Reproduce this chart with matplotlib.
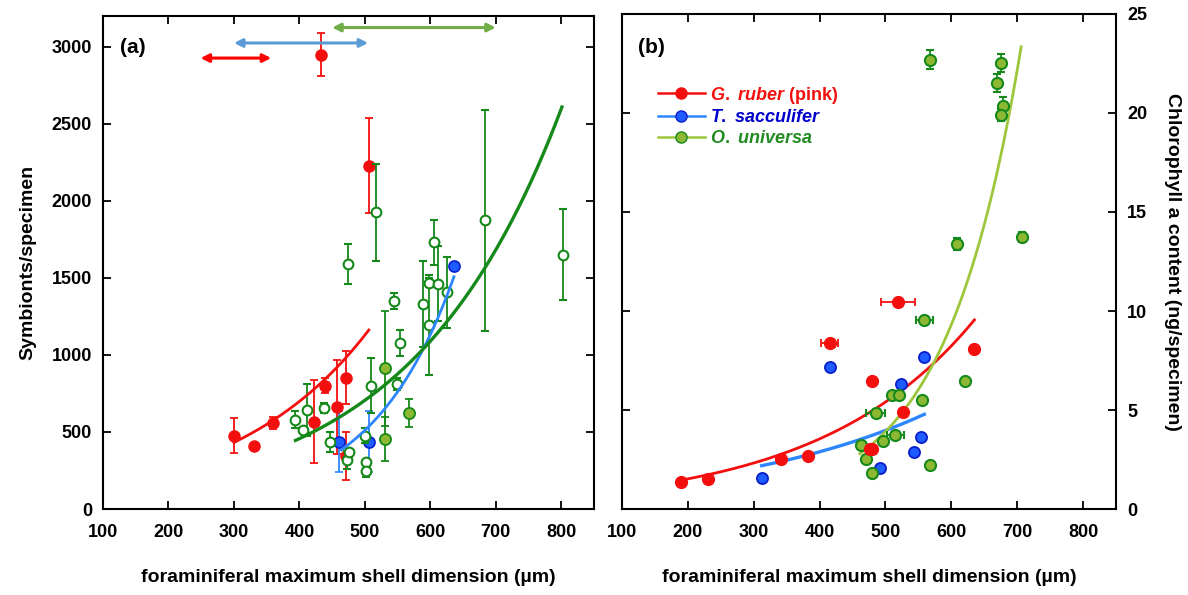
import numpy as np
import matplotlib.pyplot as plt
from matplotlib.lines import Line2D

plt.rcParams['font.family'] = ['Liberation Sans', 'DejaVu Sans']
plt.rcParams['font.weight'] = 'bold'
plt.rcParams['mathtext.fontset'] = 'custom'
plt.rcParams['mathtext.it'] = 'Liberation Sans:italic:bold'
plt.rcParams['mathtext.rm'] = 'Liberation Sans:bold'
plt.rcParams['mathtext.bf'] = 'Liberation Sans:bold'

# colours
RED = '#f40f0f'
BLUE_FILL = '#1e5cff'
BLUE_EDGE = '#0a1ecc'
BLUE_LINE = '#2e86ff'
DKGREEN = '#15891a'
OLIVE = '#8cb833'
LTGREEN = '#9dc63c'

# ---------------- panel (a): symbionts per specimen ----------------
ruber_a_x = [433, 506, 300, 330, 359, 423, 439, 457, 471, 471]
ruber_a_y = [2950, 2229, 477, 412, 558, 568, 801, 660, 853, 345]
ruber_a_err = [140, 310, 113, 0, 37, 270, 47, 305, 170, 155]

sacc_a_x = [461, 506, 636]
sacc_a_y = [438, 438, 1578]
sacc_a_err = [200, 200, 0]

# O. universa, open circles (one set) and filled circles (another set)
univ_open_x = [517, 606, 683, 802, 474, 544, 553, 589, 598, 598, 612, 625,
               394, 406, 411, 437, 447, 472, 476, 500, 501, 501, 510, 549]
univ_open_y = [1925, 1730, 1875, 1652, 1591, 1350, 1076, 1333, 1469, 1196, 1463, 1408,
               579, 510, 645, 655, 434, 319, 371, 477, 304, 247, 801, 812]
univ_open_err = [315, 147, 717, 297, 130, 54, 85, 280, 30, 323, 245, 230,
                 54, 0, 168, 32, 64, 60, 0, 50, 0, 37, 177, 40]

univ_fill_x = [530, 530, 567]
univ_fill_y = [913, 454, 623]
univ_fill_err = [375, 145, 89]

# exponential fits y = a*exp(b*x) with x range, panel (a)
fit_a_ruber = (102.4, 0.0048, 300, 506)
fit_a_sacc = (9.6, 0.00795, 464, 636)
fit_a_univ = (80.3, 0.004346, 394, 801)

# size ranges shown as arrows (start, end, y)
size_ranges = [(249, 357, 2927), (300, 505, 3025), (450, 700, 3125)]
range_colors = ['#ff0000', '#5b9bd5', '#70ad47']

# ---------------- panel (b): chlorophyll a ----------------
ruber_b_x = [190, 231, 342, 382, 415, 479, 476, 480, 519, 526, 634]
ruber_b_y = [1.38, 1.52, 2.54, 2.66, 8.38, 6.48, 3.03, 3.03, 10.44, 4.88, 8.10]
ruber_b_xerr = [0, 0, 0, 0, 12.6, 0, 0, 0, 26.5, 0, 0]

sacc_b_x = [313, 415, 491, 523, 544, 554, 558]
sacc_b_y = [1.55, 7.17, 2.07, 6.30, 2.88, 3.64, 7.66]

univ_b_x = [568, 675, 669, 678, 676, 609, 707, 559, 620, 510, 520, 555,
            485, 515, 496, 463, 471, 480, 568]
univ_b_y = [22.70, 22.54, 21.50, 20.35, 19.90, 13.37, 13.72, 9.55, 6.45, 5.77, 5.77, 5.52,
            4.83, 3.72, 3.45, 3.25, 2.54, 1.80, 2.22]
univ_b_yerr = [0.46, 0.46, 0.45, 0.45, 0.3, 0.3, 0.25, 0, 0, 0, 0, 0,
               0, 0, 0, 0, 0, 0, 0]
univ_b_xerr = [0, 0, 0, 0, 0, 0, 0, 12.6, 0, 0, 0, 0,
               15, 12.6, 0, 0, 0, 0, 0]

fit_b_ruber = (0.655, 0.00422, 190, 635)
fit_b_sacc = (0.814, 0.003168, 312, 559)
fit_b_univ = (0.0512, 0.008672, 461, 706)


def fit_curve(ax, fit, color, lw, z=4):
    a, b, x0, x1 = fit
    xs = np.linspace(x0, x1, 200)
    ax.plot(xs, a * np.exp(b * xs), color=color, lw=lw, zorder=z)


def style_axes(ax):
    ax.set_xlim(100, 850)
    ax.set_xticks(range(100, 900, 100))
    for s in ax.spines.values():
        s.set_linewidth(1.5)
    ax.tick_params(direction='in', length=6, width=1.3, labelsize=13,
                   top=True, right=True)
    ax.tick_params(axis='x', pad=11)


fig = plt.figure(figsize=(11.88, 5.95), dpi=100)
axa = fig.add_axes([0.0867, 0.1445, 0.4133, 0.8286])
axb = fig.add_axes([0.5236, 0.1445, 0.4158, 0.832])

# ---- panel (a)
style_axes(axa)
axa.set_ylim(0, 3200)
axa.set_yticks(range(0, 3001, 500))
axa.tick_params(axis='y', pad=8)

ekw = dict(capsize=3, elinewidth=1.3, capthick=1.3)
axa.errorbar(univ_open_x, univ_open_y, yerr=univ_open_err, fmt='o', ms=7,
             mfc='white', mec=DKGREEN, mew=1.5, ecolor=DKGREEN, zorder=3, **ekw)
axa.errorbar(univ_fill_x, univ_fill_y, yerr=univ_fill_err, fmt='o', ms=8,
             mfc=OLIVE, mec=DKGREEN, mew=1.3, ecolor=DKGREEN, zorder=3, **ekw)
axa.errorbar(ruber_a_x, ruber_a_y, yerr=ruber_a_err, fmt='o', ms=8,
             mfc=RED, mec=RED, ecolor=RED, zorder=2, **ekw)
axa.errorbar(sacc_a_x, sacc_a_y, yerr=sacc_a_err, fmt='o', ms=8,
             mfc=BLUE_FILL, mec=BLUE_EDGE, mew=1.2, ecolor=BLUE_LINE, zorder=2, **ekw)

fit_curve(axa, fit_a_ruber, RED, 2.0)
fit_curve(axa, fit_a_sacc, BLUE_LINE, 2.0)
fit_curve(axa, fit_a_univ, DKGREEN, 2.4)

for (x0, x1, y), c in zip(size_ranges, range_colors):
    axa.annotate('', xy=(x1, y), xytext=(x0, y),
                 arrowprops=dict(arrowstyle='<|-|>', color=c, lw=2.2,
                                 mutation_scale=12, shrinkA=0, shrinkB=0))

axa.text(0.035, 0.937, '(a)', transform=axa.transAxes, fontsize=15,
         fontweight='bold', va='center', ha='left')
axa.set_ylabel('Symbionts/specimen', fontsize=14, fontweight='bold', labelpad=11)
axa.set_xlabel('foraminiferal maximum shell dimension (µm)', fontsize=14,
               fontweight='bold', labelpad=20)

# ---- panel (b)
style_axes(axb)
axb.set_ylim(0, 25)
axb.set_yticks(range(0, 26, 5))
axb.tick_params(axis='y', labelleft=False, labelright=True, pad=8)

fit_curve(axb, fit_b_ruber, RED, 2.0, z=2)
fit_curve(axb, fit_b_sacc, BLUE_LINE, 2.4, z=2)
fit_curve(axb, fit_b_univ, LTGREEN, 2.0, z=2)

axb.errorbar(sacc_b_x, sacc_b_y, fmt='o', ms=8, mfc=BLUE_FILL, mec=BLUE_EDGE,
             mew=1.3, zorder=3)
axb.errorbar(univ_b_x, univ_b_y, yerr=univ_b_yerr, xerr=univ_b_xerr, fmt='o', ms=8,
             mfc=OLIVE, mec=DKGREEN, mew=1.5, ecolor=DKGREEN, zorder=3, **ekw)
axb.errorbar(ruber_b_x, ruber_b_y, xerr=ruber_b_xerr, fmt='o', ms=8.5,
             mfc=RED, mec=RED, ecolor=RED, zorder=4, **ekw)

handles = [
    Line2D([], [], color=RED, lw=1.8, marker='o', ms=8, mfc=RED, mec=RED),
    Line2D([], [], color=BLUE_LINE, lw=1.8, marker='o', ms=8, mfc=BLUE_FILL, mec=BLUE_EDGE),
    Line2D([], [], color=LTGREEN, lw=1.8, marker='o', ms=8, mfc=OLIVE, mec=DKGREEN),
]
labels = [r'$\mathit{G.}$ $\mathit{ruber}$ (pink)', r'$\mathit{T.}$ $\mathit{sacculifer}$',
          r'$\mathit{O.}$ $\mathit{universa}$']
leg = axb.legend(handles, labels, loc='upper left', bbox_to_anchor=(0.072, 0.857),
                 frameon=False, fontsize=13, handlelength=2.6, handletextpad=0.3,
                 labelspacing=0.2, borderpad=0, borderaxespad=0)
for t, c in zip(leg.get_texts(), [RED, '#0000cc', '#228b22']):
    t.set_color(c)

axb.text(0.032, 0.933, '(b)', transform=axb.transAxes, fontsize=15,
         fontweight='bold', va='center', ha='left')
axb.yaxis.set_label_position('right')
axb.set_ylabel('Chlorophyll a content (ng/specimen)', fontsize=14, fontweight='bold',
               rotation=-90, va='bottom', labelpad=12)
axb.set_xlabel('foraminiferal maximum shell dimension (µm)', fontsize=14,
               fontweight='bold', labelpad=20)

fig.savefig('out.png', dpi=100)
